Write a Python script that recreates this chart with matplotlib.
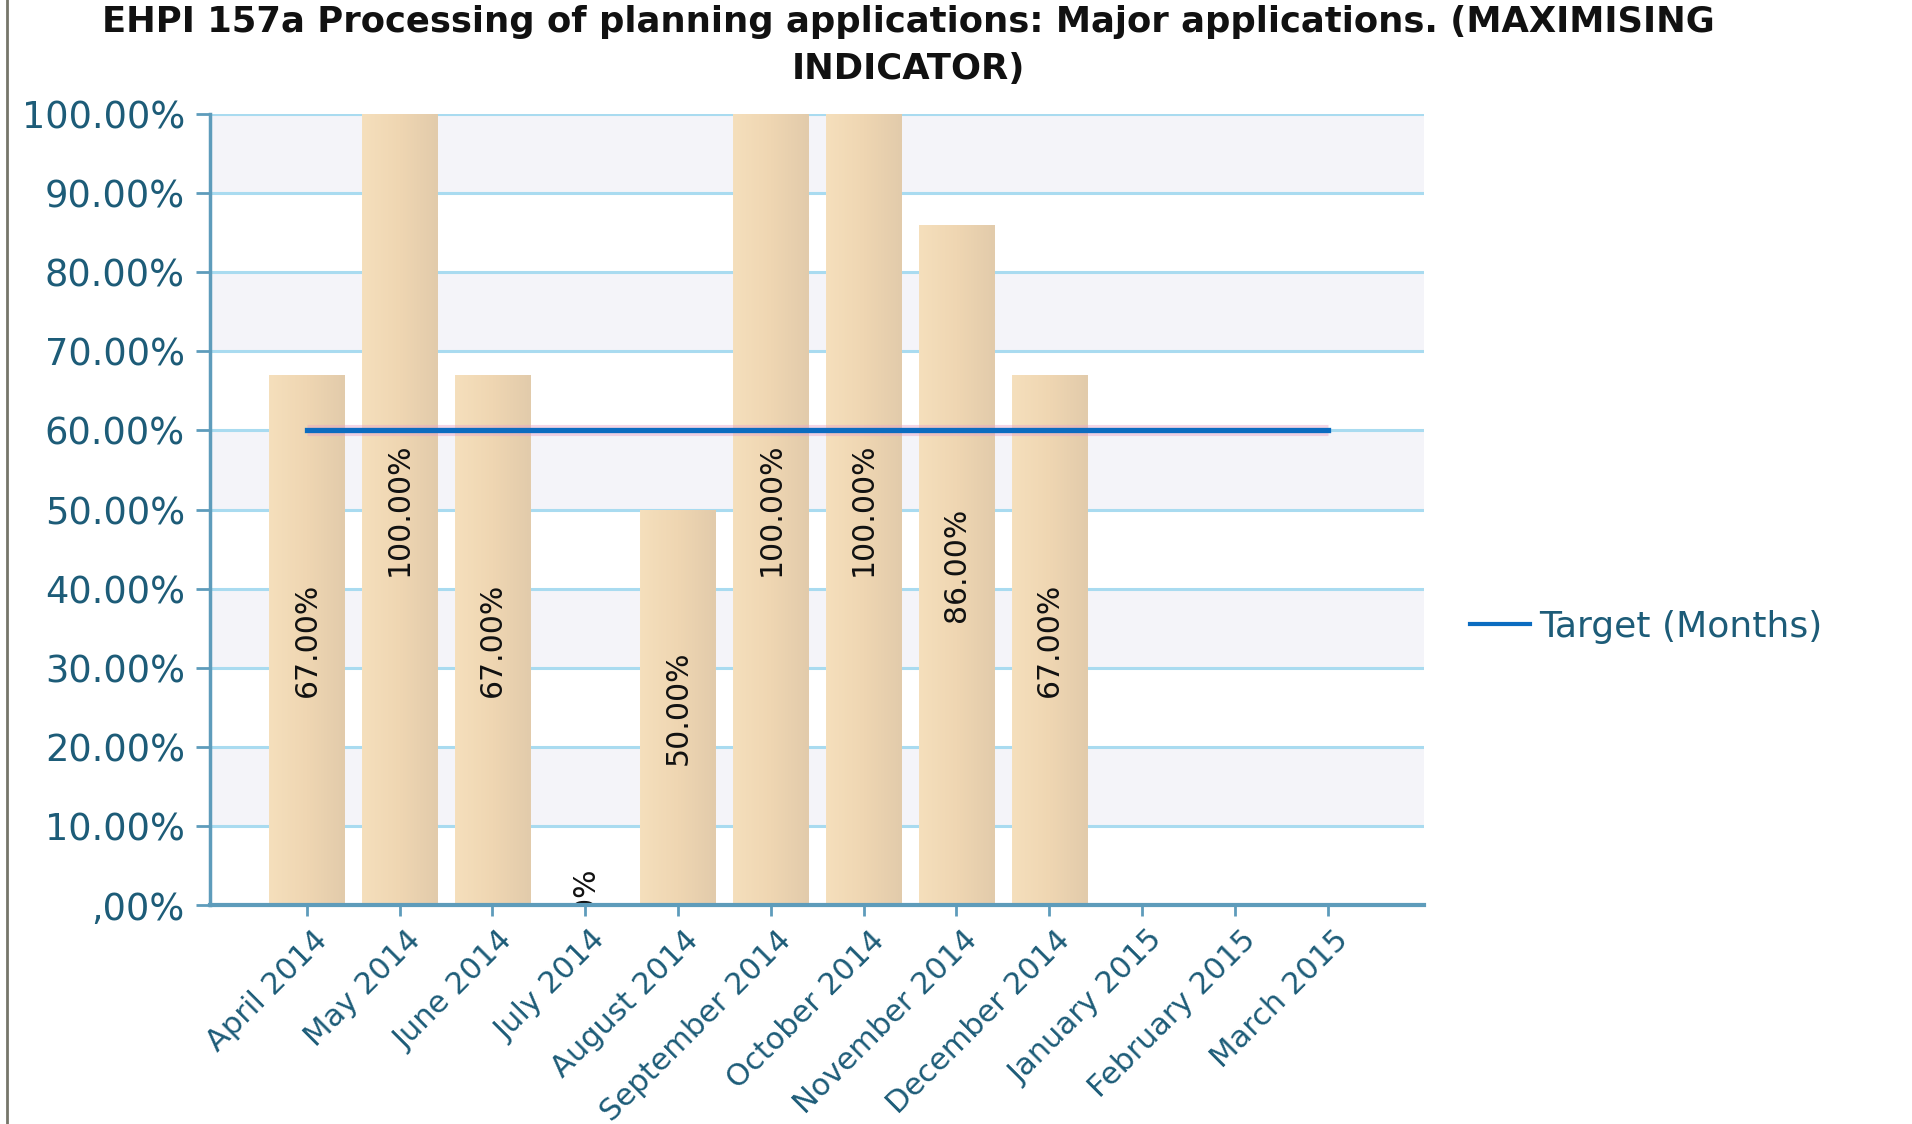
import matplotlib
matplotlib.use('Agg')
import matplotlib.pyplot as plt
import matplotlib.transforms as mtransforms
from matplotlib.colors import LinearSegmentedColormap
from matplotlib.lines import Line2D
import numpy as np

months = ['April 2014', 'May 2014', 'June 2014', 'July 2014', 'August 2014',
          'September 2014', 'October 2014', 'November 2014', 'December 2014',
          'January 2015', 'February 2015', 'March 2015']
actual = [67, 100, 67, 0, 50, 100, 100, 86, 67, np.nan, np.nan, np.nan]
target = [60] * 12
yticks = [0, 10, 20, 30, 40, 50, 60, 70, 80, 90, 100]
ytick_labels = [',00%', '10.00%', '20.00%', '30.00%', '40.00%', '50.00%',
                '60.00%', '70.00%', '80.00%', '90.00%', '100.00%']

title_lines = ['EHPI 157a Processing of planning applications: Major applications. (MAXIMISING',
               'INDICATOR)']

axis_col = '#5e9cbb'
grid_col = '#a9dbf0'
text_col = '#1d5c78'
band_col = '#f4f4f9'

plt.rcParams['font.family'] = ['DejaVu Sans']

fig = plt.figure(figsize=(19.12, 11.24), dpi=100)
ax = fig.add_axes([0.1098, 0.1948, 0.6350, 0.7038])

x = np.arange(len(months))
ax.set_xlim(-1.045, 12.04)
ax.set_ylim(0, 100)

# alternating shaded bands behind the bars
for lo in range(10, 100, 20):
    ax.axhspan(lo, lo + 10, color=band_col, zorder=0, lw=0)
for y in yticks[1:]:
    ax.axhline(y, color=grid_col, lw=2.2, zorder=1)

# bars with a soft left-to-right shading
bar_cmap = LinearSegmentedColormap.from_list('tan', ['#f5dfbc', '#efd6b2', '#e2cbab'])
grad = np.linspace(0, 1, 64).reshape(1, -1)
bars = ax.bar(x, np.nan_to_num(actual), width=0.81, color='#eed6b3', zorder=2, lw=0)
for b, v in zip(bars, actual):
    if np.isnan(v) or v == 0:
        continue
    im = ax.imshow(grad, cmap=bar_cmap, aspect='auto', zorder=2.1,
                   extent=[b.get_x(), b.get_x() + b.get_width(), 0, b.get_height()])
    im.set_clip_path(b)

# value labels, written upwards inside each bar
for xi, v in zip(x, actual):
    if np.isnan(v):
        continue
    if v == 0:
        # sits on the axis, lower part hidden by the plot edge
        ax.text(xi, -1.2, '0%', rotation=90, ha='center', va='bottom',
                fontsize=21.5, color='#111111', zorder=5, clip_on=True)
    else:
        ax.text(xi, v / 2, f'{v:.2f}%', rotation=90, ha='center', va='center',
                fontsize=21.5, color='#111111', zorder=5)

# target line with a faint halo
ax.plot(x, target, color='#e7a3c6', lw=8, alpha=0.45, zorder=3, solid_capstyle='butt')
ln, = ax.plot(x, target, color='#0b6cc0', lw=3.8, zorder=4, label='Target (Months)')

ax.set_xticks(x)
ax.set_xticklabels(months, rotation=45, ha='right', va='center',
                   rotation_mode='anchor', fontsize=22, color=text_col)
ax.set_yticks(yticks)
ax.set_yticklabels(ytick_labels, fontsize=26.5, color=text_col)

ax.tick_params(axis='x', length=8, width=2, color=axis_col, pad=14)
ax.tick_params(axis='y', length=10, width=2, color=axis_col, pad=8)

# nudge the slanted month labels to the right of their ticks
shift = mtransforms.ScaledTranslation(0.16, 0, fig.dpi_scale_trans)
for lab in ax.get_xticklabels():
    lab.set_transform(lab.get_transform() + shift)

for s in ['top', 'right']:
    ax.spines[s].set_visible(False)
ax.spines['left'].set_color(axis_col)
ax.spines['left'].set_linewidth(2.5)
ax.spines['bottom'].set_color(axis_col)
ax.spines['bottom'].set_linewidth(3)
ax.spines['left'].set_zorder(6)
ax.spines['bottom'].set_zorder(6)
ax.set_facecolor('white')

fig.text(0.475, 1 - 22 / 1124, title_lines[0], ha='center', va='center',
         fontsize=25.5, fontweight='bold', color='#111111')
fig.text(0.475, 1 - 69 / 1124, title_lines[1], ha='center', va='center',
         fontsize=25.5, fontweight='bold', color='#111111')

leg_handle = Line2D([], [], color='#0b6cc0', lw=3)
fig.legend([leg_handle], ['Target (Months)'], loc='center left',
           bbox_to_anchor=(1470 / 1912, 1 - 627 / 1124), frameon=False,
           borderpad=0, borderaxespad=0,
           fontsize=26, handlelength=1.67, handletextpad=0.25,
           labelcolor=text_col)

# thin frame line down the left edge
fig.add_artist(Line2D([0.0037, 0.0037], [0, 1], color='#76766a', lw=2,
                      transform=fig.transFigure))

fig.savefig('out.png', dpi=100, facecolor='white')
